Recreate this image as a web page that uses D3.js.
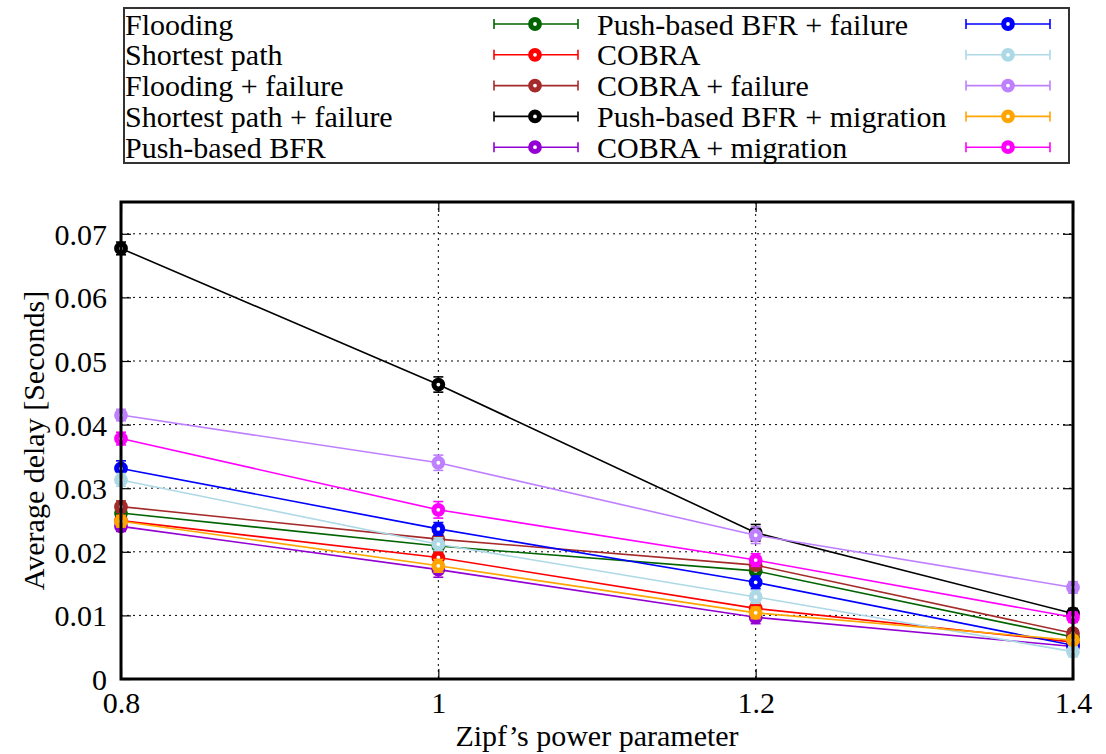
<!DOCTYPE html>
<html><head><meta charset="utf-8">
<script src="https://cdn.jsdelivr.net/npm/d3@7"></script>
<style>body{margin:0;background:#fff}svg{display:block}</style>
</head><body><svg id="c" width="1106" height="754"></svg>
<script>
const xValues = [0.8, 1.0, 1.2, 1.4];
const xTicks = [0.8, 1, 1.2, 1.4];
const yTicks = [0, 0.01, 0.02, 0.03, 0.04, 0.05, 0.06, 0.07];
const seriesNames = ["Flooding","Shortest path","Flooding + failure","Shortest path + failure","Push-based BFR",
  "Push-based BFR + failure","COBRA","COBRA + failure","Push-based BFR + migration","COBRA + migration"];
const seriesColors = ["#006400","#ff0000","#a52a2a","#000000","#9400d3","#0000ff","#add8e6","#bf80ff","#ffa500","#ff00ff"];
const flooding        = [0.0261, 0.0209, 0.0170, 0.0066];
const shortestPath    = [0.0249, 0.0191, 0.0111, 0.0058];
const floodingFail    = [0.0271, 0.0220, 0.0179, 0.0072];
const shortestFail    = [0.0677, 0.0463, 0.0230, 0.0103];
const pushBFR         = [0.0240, 0.0172, 0.0097, 0.0051];
const pushBFRFail     = [0.0331, 0.0236, 0.0152, 0.0053];
const cobra           = [0.0313, 0.0212, 0.0129, 0.0043];
const cobraFail       = [0.0415, 0.0340, 0.0226, 0.0144];
const pushBFRMig      = [0.0248, 0.0178, 0.0104, 0.0061];
const cobraMig        = [0.0378, 0.0266, 0.0187, 0.0097];
const errFlooding     = [0.0008, 0.0008, 0.0007, 0.0006];
const errShortest     = [0.0008, 0.0008, 0.0008, 0.0006];
const errFloodFail    = [0.0009, 0.0009, 0.0008, 0.0007];
const errShortFail    = [0.0010, 0.0012, 0.0013, 0.0008];
const errPushBFR      = [0.0008, 0.0012, 0.0010, 0.0006];
const errPushFail     = [0.0012, 0.0010, 0.0010, 0.0007];
const errCobra        = [0.0010, 0.0010, 0.0010, 0.0008];
const errCobraFail    = [0.0009, 0.0012, 0.0013, 0.0009];
const errPushMig      = [0.0009, 0.0010, 0.0009, 0.0007];
const errCobraMig     = [0.0010, 0.0013, 0.0010, 0.0008];

const values = [flooding, shortestPath, floodingFail, shortestFail, pushBFR, pushBFRFail, cobra, cobraFail, pushBFRMig, cobraMig];
const errors = [errFlooding, errShortest, errFloodFail, errShortFail, errPushBFR, errPushFail, errCobra, errCobraFail, errPushMig, errCobraMig];

const FONT = "'Liberation Serif', 'Times New Roman', Times, 'DejaVu Serif', serif";
const FS = 30;
const svg = d3.select("#c");
const L = 121, R = 1073, T = 202, B = 679;
const x = d3.scaleLinear().domain([0.8, 1.4]).range([L, R]);
const y = d3.scaleLinear().domain([0, 0.075]).range([B, T]);

// grid
const g = svg.append("g");
g.selectAll(".gy").data(yTicks.filter(d => d > 0)).join("line")
  .attr("x1", L).attr("x2", R).attr("y1", d => y(d)).attr("y2", d => y(d))
  .attr("stroke", "#000").attr("stroke-width", 1).attr("stroke-dasharray", "2,4");
g.selectAll(".gx").data(xTicks.filter(d => d > 0.8 && d < 1.4)).join("line")
  .attr("y1", T).attr("y2", B).attr("x1", d => x(d)).attr("x2", d => x(d))
  .attr("stroke", "#000").attr("stroke-width", 1).attr("stroke-dasharray", "2,4");

// ticks inward
const yAxisL = d3.axisLeft(y).tickValues(yTicks).tickSize(-10).tickFormat(d => d === 0 ? "0" : d3.format(".2f")(d)).tickPadding(14);
const ga = svg.append("g").attr("transform", `translate(${L},0)`).call(yAxisL);
ga.select(".domain").remove();
ga.attr("font-family", FONT).attr("font-size", FS);
ga.selectAll("text").attr("font-family", FONT).attr("font-size", FS).attr("fill", "#000").attr("dy", "0.35em");
ga.selectAll("line").attr("stroke-width", 1.2);
const yAxisR = d3.axisRight(y).tickValues(yTicks).tickSize(-10).tickFormat("");
const gr = svg.append("g").attr("transform", `translate(${R},0)`).call(yAxisR);
gr.select(".domain").remove(); gr.selectAll("line").attr("stroke-width", 1.2);
const xAxisB = d3.axisBottom(x).tickValues(xTicks).tickSize(-10).tickFormat(d3.format("")).tickPadding(12);
const gb = svg.append("g").attr("transform", `translate(0,${B})`).call(xAxisB);
gb.select(".domain").remove();
gb.attr("font-family", FONT).attr("font-size", FS);
gb.selectAll("text").attr("font-family", FONT).attr("font-size", FS).attr("fill", "#000").attr("dy", "0.72em");
gb.selectAll("line").attr("stroke-width", 1.2);
const xAxisT = d3.axisTop(x).tickValues(xTicks).tickSize(-10).tickFormat("");
const gt = svg.append("g").attr("transform", `translate(0,${T})`).call(xAxisT);
gt.select(".domain").remove(); gt.selectAll("line").attr("stroke-width", 1.2);

// series
const line = d3.line().x((d, i) => x(xValues[i])).y(d => y(d));
values.forEach((vals, s) => {
  const col = seriesColors[s];
  const sg = svg.append("g");
  sg.append("path").attr("d", line(vals)).attr("fill", "none").attr("stroke", col).attr("stroke-width", 1.6);
  vals.forEach((v, i) => {
    const e = errors[s][i], cx = x(xValues[i]);
    sg.append("line").attr("x1", cx).attr("x2", cx).attr("y1", y(v - e)).attr("y2", y(v + e)).attr("stroke", col).attr("stroke-width", 1.6);
    [v - e, v + e].forEach(w => sg.append("line").attr("x1", cx - 5).attr("x2", cx + 5).attr("y1", y(w)).attr("y2", y(w)).attr("stroke", col).attr("stroke-width", 1.6));
    sg.append("circle").attr("cx", cx).attr("cy", y(v)).attr("r", 4.4).attr("fill", "#fff").attr("stroke", col).attr("stroke-width", 5);
  });
});

// frame
svg.append("rect").attr("x", L).attr("y", T).attr("width", R - L).attr("height", B - T)
  .attr("fill", "none").attr("stroke", "#000").attr("stroke-width", 3);

// axis titles
svg.append("text").attr("x", (L + R) / 2).attr("y", 746).attr("text-anchor", "middle")
  .attr("font-family", FONT).attr("font-size", FS).text("Zipf’s power parameter");
svg.append("text").attr("transform", `translate(44,${(T + B) / 2}) rotate(-90)`).attr("text-anchor", "middle")
  .attr("font-family", FONT).attr("font-size", FS).text("Average delay [Seconds]");

// legend
svg.append("rect").attr("x", 124).attr("y", 8).attr("width", 945).attr("height", 155)
  .attr("fill", "#fff").attr("stroke", "#333").attr("stroke-width", 2);
const cols = [{tx: 125, l0: 494, l1: 578, mx: 535}, {tx: 597, l0: 966, l1: 1050, mx: 1008}];
seriesNames.forEach((name, s) => {
  const c = cols[Math.floor(s / 5)], cy = 24 + (s % 5) * 30.8, col = seriesColors[s];
  svg.append("text").attr("x", c.tx).attr("y", cy).attr("dy", "0.35em")
    .attr("font-family", FONT).attr("font-size", FS).text(name);
  svg.append("line").attr("x1", c.l0).attr("x2", c.l1).attr("y1", cy).attr("y2", cy).attr("stroke", col).attr("stroke-width", 1.6);
  [c.l0, c.l1].forEach(xx => svg.append("line").attr("x1", xx).attr("x2", xx).attr("y1", cy - 5).attr("y2", cy + 5).attr("stroke", col).attr("stroke-width", 1.6));
  svg.append("circle").attr("cx", c.mx).attr("cy", cy).attr("r", 4.4).attr("fill", "#fff").attr("stroke", col).attr("stroke-width", 5);
});
</script></body></html>
